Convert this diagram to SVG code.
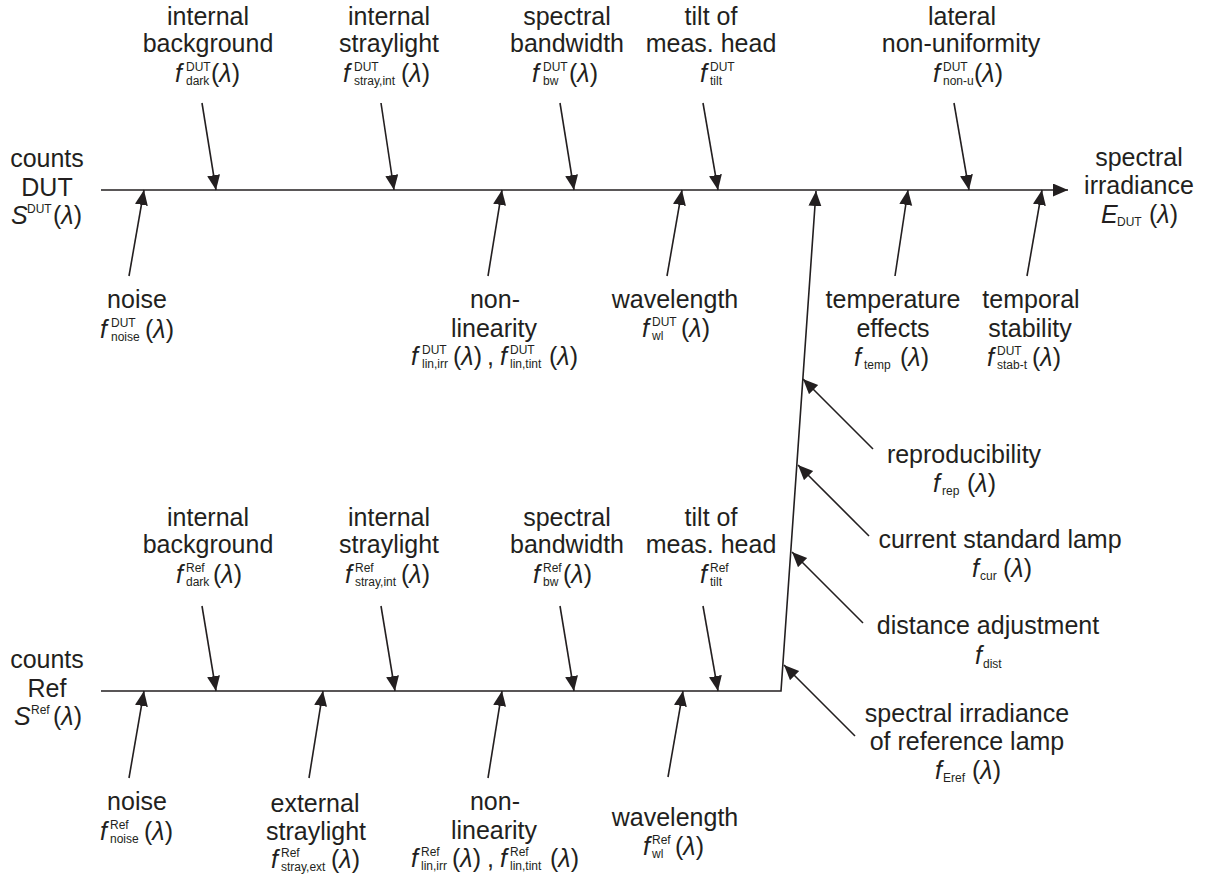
<svg xmlns="http://www.w3.org/2000/svg" width="1206" height="878" viewBox="0 0 1206 878">
<defs>
<marker id="ah" markerUnits="userSpaceOnUse" markerWidth="16" markerHeight="14" refX="15" refY="6.5" orient="auto">
<path d="M0,0 L15,6.5 L0,13 z" fill="#231f20"/>
</marker>
<style>
text{font-family:"Liberation Sans",Arial,sans-serif;fill:#231f20}
.t{font-size:25px;text-anchor:middle}
.f{font-size:25px;font-style:italic}
.p{font-size:25px}
.s{font-size:12px}
.i{font-style:italic}
.c line,.c polyline{stroke:#231f20;stroke-width:1.6;fill:none}
.a{marker-end:url(#ah)}
</style>
</defs>
<rect width="1206" height="878" fill="#fff"/>
<g class="c" id="connectors">
<line x1="101" y1="190" x2="1068" y2="190" class="a"/>
<polyline points="101,691 781,691 816,191" class="a"/>
<line x1="202" y1="103" x2="216" y2="190" class="a"/>
<line x1="381" y1="103" x2="394" y2="190" class="a"/>
<line x1="560" y1="103" x2="574" y2="190" class="a"/>
<line x1="703" y1="103" x2="718" y2="190" class="a"/>
<line x1="954" y1="103" x2="969" y2="190" class="a"/>
<line x1="129" y1="276" x2="144" y2="190" class="a"/>
<line x1="488" y1="276" x2="502" y2="190" class="a"/>
<line x1="667" y1="276" x2="682" y2="190" class="a"/>
<line x1="895" y1="276" x2="908" y2="190" class="a"/>
<line x1="1027" y1="276" x2="1042" y2="190" class="a"/>
<line x1="202" y1="606" x2="216" y2="691" class="a"/>
<line x1="381" y1="606" x2="395" y2="691" class="a"/>
<line x1="560" y1="606" x2="574" y2="691" class="a"/>
<line x1="703" y1="606" x2="718" y2="691" class="a"/>
<line x1="129" y1="778" x2="144" y2="691" class="a"/>
<line x1="309" y1="778" x2="323" y2="691" class="a"/>
<line x1="488" y1="778" x2="502" y2="691" class="a"/>
<line x1="668" y1="777" x2="683" y2="691" class="a"/>
<line x1="873" y1="449" x2="803" y2="379" class="a"/>
<line x1="869" y1="536" x2="798" y2="465" class="a"/>
<line x1="863" y1="623" x2="792" y2="552" class="a"/>
<line x1="855" y1="736" x2="784" y2="665" class="a"/>
</g>
<g id="counts-dut">
<text class="t" x="47" y="167">counts</text><text class="t" x="47" y="196">DUT</text>
<text class="f" x="11" y="224">S</text><text class="s" x="27" y="213">DUT</text><text class="p" x="53" y="224">(<tspan class="i">λ</tspan>)</text>
</g>
<g id="counts-ref">
<text class="t" x="47" y="668">counts</text><text class="t" x="47" y="697">Ref</text>
<text class="f" x="14" y="725">S</text><text class="s" x="31" y="714">Ref</text><text class="p" x="53" y="725">(<tspan class="i">λ</tspan>)</text>
</g>
<g id="output">
<text class="t" x="1139" y="166">spectral</text><text class="t" x="1139" y="194">irradiance</text>
<text class="f" x="1101" y="223">E</text><text class="s" x="1117" y="226">DUT</text><text class="p" x="1149" y="223">(<tspan class="i">λ</tspan>)</text>
</g>
<g id="dut-dark">
<text class="t" x="208" y="25">internal</text><text class="t" x="208" y="52">background</text>
<text class="f" x="175" y="82">f</text><text class="s" x="186" y="71">DUT</text><text class="s" x="186" y="85">dark</text><text class="p" x="211" y="82">(<tspan class="i">λ</tspan>)</text>
</g>
<g id="dut-stray-int">
<text class="t" x="389" y="25">internal</text><text class="t" x="389" y="52">straylight</text>
<text class="f" x="343" y="82">f</text><text class="s" x="354" y="71">DUT</text><text class="s" x="354" y="85">stray,int</text><text class="p" x="401" y="82">(<tspan class="i">λ</tspan>)</text>
</g>
<g id="dut-bw">
<text class="t" x="567" y="25">spectral</text><text class="t" x="567" y="52">bandwidth</text>
<text class="f" x="532" y="82">f</text><text class="s" x="543" y="71">DUT</text><text class="s" x="543" y="85">bw</text><text class="p" x="569" y="82">(<tspan class="i">λ</tspan>)</text>
</g>
<g id="dut-tilt">
<text class="t" x="711" y="25">tilt of</text><text class="t" x="711" y="52">meas. head</text>
<text class="f" x="700" y="82">f</text><text class="s" x="710" y="71">DUT</text><text class="s" x="710" y="85">tilt</text>
</g>
<g id="dut-non-u">
<text class="t" x="962" y="25">lateral</text><text class="t" x="961" y="52">non-uniformity</text>
<text class="f" x="933" y="82">f</text><text class="s" x="943" y="71">DUT</text><text class="s" x="943" y="85">non-u</text><text class="p" x="974" y="82">(<tspan class="i">λ</tspan>)</text>
</g>
<g id="dut-noise">
<text class="t" x="137" y="308">noise</text>
<text class="f" x="100" y="338">f</text><text class="s" x="111" y="327">DUT</text><text class="s" x="111" y="341">noise</text><text class="p" x="145" y="338">(<tspan class="i">λ</tspan>)</text>
</g>
<g id="dut-nonlin">
<text class="t" x="495" y="308">non-</text><text class="t" x="494" y="337">linearity</text>
<text class="f" x="411" y="365">f</text><text class="s" x="422" y="354">DUT</text><text class="s" x="422" y="368">lin,irr</text><text class="p" x="453" y="365">(<tspan class="i">λ</tspan>)</text><text class="p" x="487" y="365">,</text>
<text class="f" x="500" y="365">f</text><text class="s" x="510" y="354">DUT</text><text class="s" x="510" y="368">lin,tint</text><text class="p" x="549" y="365">(<tspan class="i">λ</tspan>)</text>
</g>
<g id="dut-wl">
<text class="t" x="675" y="308">wavelength</text>
<text class="f" x="642" y="337">f</text><text class="s" x="652" y="326">DUT</text><text class="s" x="652" y="340">wl</text><text class="p" x="681" y="337">(<tspan class="i">λ</tspan>)</text>
</g>
<g id="temp">
<text class="t" x="893" y="308">temperature</text><text class="t" x="893" y="337">effects</text>
<text class="f" x="854" y="366">f</text><text class="s" x="864" y="369">temp</text><text class="p" x="900" y="366">(<tspan class="i">λ</tspan>)</text>
</g>
<g id="dut-stab">
<text class="t" x="1031" y="308">temporal</text><text class="t" x="1030" y="337">stability</text>
<text class="f" x="987" y="366">f</text><text class="s" x="997" y="355">DUT</text><text class="s" x="997" y="369">stab-t</text><text class="p" x="1032" y="366">(<tspan class="i">λ</tspan>)</text>
</g>
<g id="rep">
<text class="t" x="964" y="463">reproducibility</text>
<text class="f" x="933" y="492">f</text><text class="s" x="942" y="495">rep</text><text class="p" x="967" y="492">(<tspan class="i">λ</tspan>)</text>
</g>
<g id="cur">
<text class="t" x="1000" y="548">current standard lamp</text>
<text class="f" x="972" y="577">f</text><text class="s" x="980" y="580">cur</text><text class="p" x="1003" y="577">(<tspan class="i">λ</tspan>)</text>
</g>
<g id="dist">
<text class="t" x="988" y="634">distance adjustment</text>
<text class="f" x="975" y="664">f</text><text class="s" x="983" y="668">dist</text>
</g>
<g id="eref">
<text class="t" x="967" y="722">spectral irradiance</text><text class="t" x="967" y="750">of reference lamp</text>
<text class="f" x="935" y="779">f</text><text class="s" x="943" y="782">Eref</text><text class="p" x="972" y="779">(<tspan class="i">λ</tspan>)</text>
</g>
<g id="ref-dark">
<text class="t" x="208" y="526">internal</text><text class="t" x="208" y="553">background</text>
<text class="f" x="176" y="583">f</text><text class="s" x="186" y="572">Ref</text><text class="s" x="186" y="586">dark</text><text class="p" x="213" y="583">(<tspan class="i">λ</tspan>)</text>
</g>
<g id="ref-stray-int">
<text class="t" x="389" y="526">internal</text><text class="t" x="389" y="553">straylight</text>
<text class="f" x="345" y="583">f</text><text class="s" x="355" y="572">Ref</text><text class="s" x="355" y="586">stray,int</text><text class="p" x="401" y="583">(<tspan class="i">λ</tspan>)</text>
</g>
<g id="ref-bw">
<text class="t" x="567" y="526">spectral</text><text class="t" x="567" y="553">bandwidth</text>
<text class="f" x="533" y="583">f</text><text class="s" x="543" y="572">Ref</text><text class="s" x="543" y="586">bw</text><text class="p" x="563" y="583">(<tspan class="i">λ</tspan>)</text>
</g>
<g id="ref-tilt">
<text class="t" x="711" y="526">tilt of</text><text class="t" x="711" y="553">meas. head</text>
<text class="f" x="700" y="583">f</text><text class="s" x="710" y="572">Ref</text><text class="s" x="710" y="586">tilt</text>
</g>
<g id="ref-noise">
<text class="t" x="137" y="810">noise</text>
<text class="f" x="100" y="840">f</text><text class="s" x="110" y="829">Ref</text><text class="s" x="110" y="843">noise</text><text class="p" x="144" y="840">(<tspan class="i">λ</tspan>)</text>
</g>
<g id="ref-stray-ext">
<text class="t" x="315" y="812">external</text><text class="t" x="316" y="840">straylight</text>
<text class="f" x="271" y="868">f</text><text class="s" x="281" y="857">Ref</text><text class="s" x="281" y="871">stray,ext</text><text class="p" x="331" y="868">(<tspan class="i">λ</tspan>)</text>
</g>
<g id="ref-nonlin">
<text class="t" x="495" y="810">non-</text><text class="t" x="494" y="839">linearity</text>
<text class="f" x="411" y="867">f</text><text class="s" x="421" y="856">Ref</text><text class="s" x="421" y="870">lin,irr</text><text class="p" x="452" y="867">(<tspan class="i">λ</tspan>)</text><text class="p" x="487" y="867">,</text>
<text class="f" x="500" y="867">f</text><text class="s" x="510" y="856">Ref</text><text class="s" x="510" y="870">lin,tint</text><text class="p" x="550" y="867">(<tspan class="i">λ</tspan>)</text>
</g>
<g id="ref-wl">
<text class="t" x="675" y="826">wavelength</text>
<text class="f" x="643" y="855">f</text><text class="s" x="652" y="844">Ref</text><text class="s" x="652" y="858">wl</text><text class="p" x="675" y="855">(<tspan class="i">λ</tspan>)</text>
</g>
</svg>
